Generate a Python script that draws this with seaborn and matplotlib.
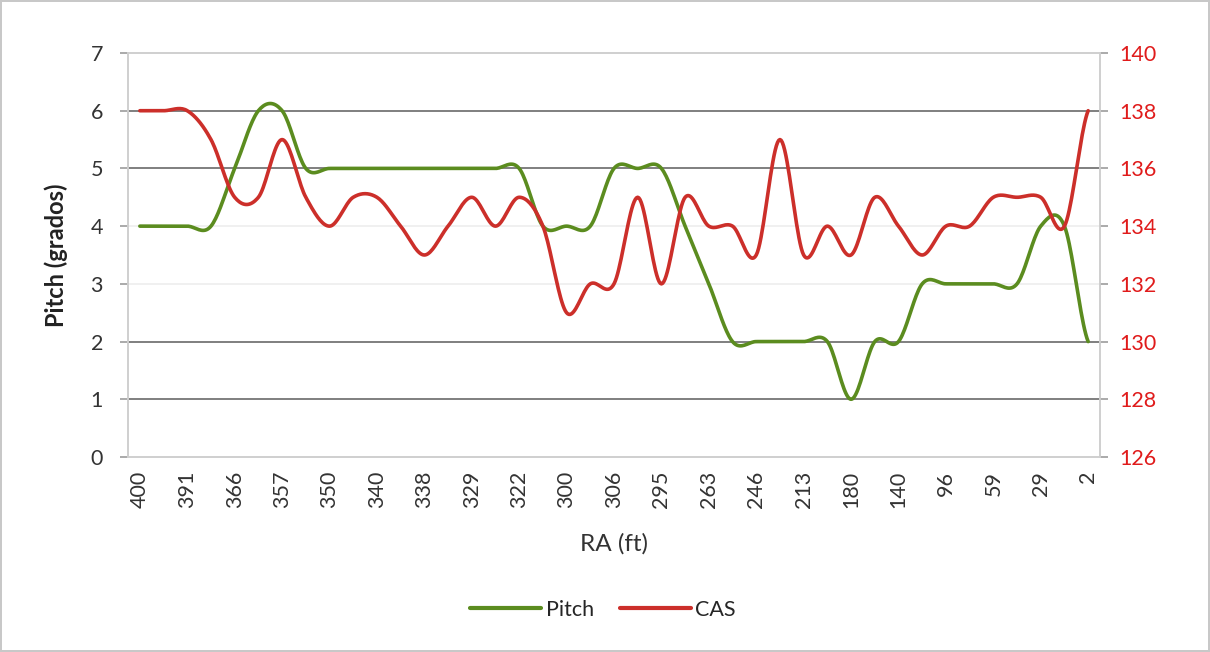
import numpy as np
import pandas as pd
import matplotlib
matplotlib.use("Agg")
import matplotlib.pyplot as plt
import seaborn as sns
from matplotlib.lines import Line2D

# ---- data ----
tick_labels = ["400", "391", "366", "357", "350", "340", "338", "329", "322", "300",
               "306", "295", "263", "246", "213", "180", "140", "96", "59", "29", "2"]
pitch = [4, 4, 4, 4, 5, 6, 6, 5, 5, 5, 5, 5, 5, 5, 5, 5, 5, 4, 4, 4, 5,
         5, 5, 4, 3, 2, 2, 2, 2, 2, 1, 2, 2, 3, 3, 3, 3, 3, 4, 4, 2]
cas = [138, 138, 138, 137, 135, 135, 137, 135, 134, 135, 135, 134, 133, 134, 135, 134, 135,
       134, 131, 132, 132, 135, 132, 135, 134, 134, 133, 137, 133, 134, 133, 135, 134, 133,
       134, 134, 135, 135, 135, 134, 138]
left_ticks = [0, 1, 2, 3, 4, 5, 6, 7]
right_ticks = [126, 128, 130, 132, 134, 136, 138, 140]

GREEN = "#5b8c1f"
RED = "#cc2f2a"


def smooth(values, n=20):
    """Excel-style smoothed line (Catmull-Rom through the data points)."""
    v = np.asarray(values, dtype=float)
    p = np.concatenate([[v[0]], v, [v[-1]]])
    xs, ys = [], []
    t = np.linspace(0, 1, n, endpoint=False)
    for i in range(len(v) - 1):
        p0, p1, p2, p3 = p[i], p[i + 1], p[i + 2], p[i + 3]
        m1 = (p2 - p0) / 2
        m2 = (p3 - p1) / 2
        h00 = 2 * t**3 - 3 * t**2 + 1
        h10 = t**3 - 2 * t**2 + t
        h01 = -2 * t**3 + 3 * t**2
        h11 = t**3 - t**2
        ys.append(h00 * p1 + h10 * m1 + h01 * p2 + h11 * m2)
        xs.append(i + t)
    xs.append([len(v) - 1])
    ys.append([v[-1]])
    return np.concatenate(xs), np.concatenate(ys)


sns.set_theme(style="white")
plt.rcParams["font.family"] = ["Lato", "DejaVu Sans"]

fig = plt.figure(figsize=(12.1, 6.52), dpi=100)
fig.patch.set_edgecolor("#c8c8c8")
fig.patch.set_linewidth(1.5)
ax = fig.add_axes([128 / 1210, 1 - 457 / 652, (1100 - 128) / 1210, (457 - 53) / 652])
ax2 = ax.twinx()

# gridlines
for y in left_ticks[1:-1]:
    c = "#f0f0f0" if y in (3, 4) else "#7f7f7f"
    ax.axhline(y, color=c, lw=1.4, zorder=0)

xp, yp = smooth(pitch)
xc, yc = smooth(cas)
sns.lineplot(x=xp, y=yp, ax=ax, color=GREEN, lw=2.6, sort=False, zorder=3)
sns.lineplot(x=xc, y=yc, ax=ax2, color=RED, lw=2.6, sort=False, zorder=3)

n = len(pitch)
ax.set_xlim(-0.5, n - 0.5)
ax.set_ylim(0, 7)
ax2.set_ylim(126, 140)
ax.set_yticks(left_ticks)
ax.set_yticklabels([str(v) for v in left_ticks], fontsize=15.5, color="#333333")
ax2.set_yticks(right_ticks)
ax2.set_yticklabels([str(v) for v in right_ticks], fontsize=15.5, color="#e01b1b")
ax.set_xticks(np.arange(0, n, 2))
ax.set_xticklabels(tick_labels, rotation=90, fontsize=15.5, color="#333333")
ax.grid(False)
ax2.grid(False)

for a in (ax, ax2):
    for s in a.spines.values():
        s.set_color("#cfcfcf")
        s.set_linewidth(1.2)
ax.tick_params(axis="y", length=6, color="#a0a0a0", pad=12, left=True)
ax.tick_params(axis="x", length=0, pad=10)
ax2.tick_params(axis="y", length=6, color="#a0a0a0", pad=8, right=True)

ax.set_ylabel("Pitch (grados)", fontsize=17, fontweight="bold", color="#222222", labelpad=16)
ax.set_xlabel("RA (ft)", fontsize=17.5, color="#333333", labelpad=18)

handles = [Line2D([], [], color=GREEN, lw=3), Line2D([], [], color=RED, lw=3)]
fig.legend(handles, ["Pitch", "CAS"], loc="center", bbox_to_anchor=(603 / 1210, 1 - 610 / 652),
           ncol=2, frameon=False, fontsize=15.5, handlelength=3.3, handletextpad=0.2,
           columnspacing=1.2)

fig.savefig("out.png", dpi=100)
